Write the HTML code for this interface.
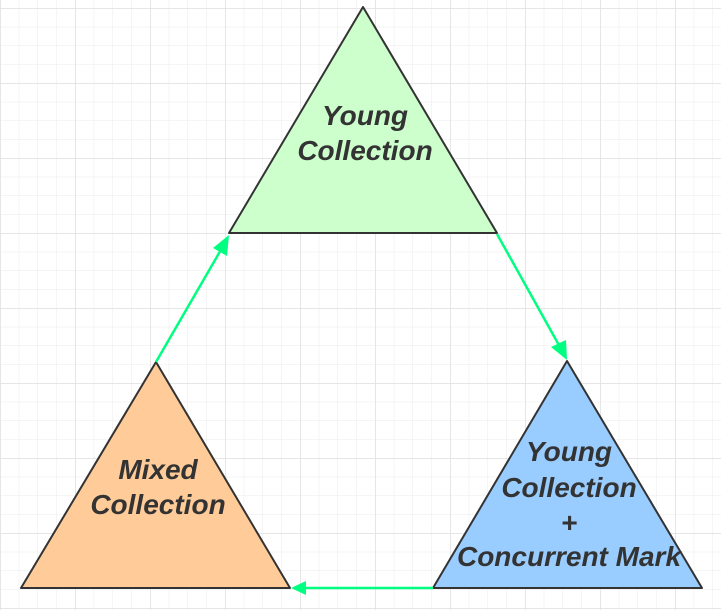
<!DOCTYPE html>
<html><head><meta charset="utf-8"><style>
html,body{margin:0;padding:0;background:#fff}
svg{display:block}
text{font-family:"Liberation Sans",sans-serif;font-weight:bold;font-style:italic;font-size:28px;fill:#333;text-anchor:middle}
</style></head><body>
<svg width="721" height="610" viewBox="0 0 721 610" xmlns="http://www.w3.org/2000/svg">
<defs>
<pattern id="minor" x="0.5" y="8.5" width="18.75" height="18.75" patternUnits="userSpaceOnUse">
<path d="M18.75 0V18.75M0 18.75H18.75" fill="none" stroke="#ebebeb" stroke-width="1"/>
</pattern>
<pattern id="major" x="0.5" y="8.5" width="75" height="75" patternUnits="userSpaceOnUse">
<path d="M0 0V75M0 0H75" fill="none" stroke="#e0e0e0" stroke-width="1"/>
</pattern>
</defs>
<rect width="721" height="610" fill="url(#minor)"/>
<rect width="721" height="610" fill="url(#major)"/>
<polygon points="363,7 229,233 497,233" fill="#ccffcc" stroke="#333" stroke-width="2" stroke-linejoin="round"/>
<polygon points="567,361 433,588 702,588" fill="#99ccff" stroke="#333" stroke-width="2" stroke-linejoin="round"/>
<polygon points="156,362 21,588 290,588" fill="#ffcc99" stroke="#333" stroke-width="2" stroke-linejoin="round"/>
<g stroke="#00ff80" stroke-width="2.5" fill="#00ff80">
<line x1="156" y1="362" x2="222" y2="248"/>
<polygon points="229,235 227,256 213,248" stroke="none"/>
<line x1="497" y1="234" x2="560" y2="347"/>
<polygon points="567,360 551,347 566,340" stroke="none"/>
<line x1="433" y1="588" x2="305" y2="588"/>
<polygon points="291,588 306,581 306,595" stroke="none"/>
</g>
<text x="365" y="125">Young</text>
<text x="365" y="160">Collection</text>
<text x="158" y="479">Mixed</text>
<text x="158" y="514">Collection</text>
<text x="569" y="461">Young</text>
<text x="569" y="497">Collection</text>
<text x="569" y="532">+</text>
<text x="569" y="566">Concurrent Mark</text>
</svg>
</body></html>
